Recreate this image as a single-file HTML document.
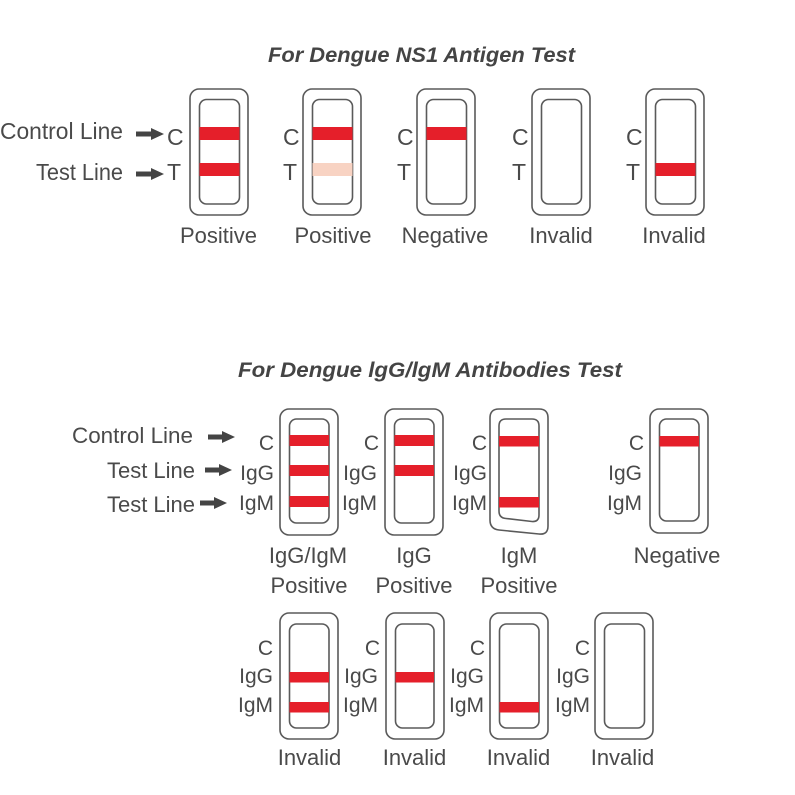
<!DOCTYPE html>
<html><head><meta charset="utf-8"><style>
html,body{margin:0;padding:0;background:#fff;}
svg{display:block;}
text{font-family:"Liberation Sans",sans-serif;fill:#4a4a4a;}
.t{font-weight:bold;font-style:italic;font-size:21px;fill:#444;}
.b{fill:none;stroke:#5a5a5a;stroke-width:1.6;}
.r{fill:#e51f2a;}
.f{fill:#f8d3c3;}
.a{fill:#444;}
</style></head><body>
<svg width="795" height="795" viewBox="0 0 795 795" xmlns="http://www.w3.org/2000/svg">
<!-- Titles -->
<text class="t" x="268" y="62" textLength="307" lengthAdjust="spacingAndGlyphs">For Dengue NS1 Antigen Test</text>
<text class="t" x="238" y="377" textLength="384" lengthAdjust="spacingAndGlyphs">For Dengue lgG/lgM Antibodies Test</text>

<!-- TOP SECTION -->
<text x="0" y="139" font-size="23" textLength="123" lengthAdjust="spacingAndGlyphs">Control Line</text>
<text x="36" y="180" font-size="23" textLength="87" lengthAdjust="spacingAndGlyphs">Test Line</text>
<path class="a" d="M136 131.5 H151 V128 L164 134 L151 140 V136.5 H136 Z"/>
<path class="a" d="M136 171.5 H151 V168 L164 174 L151 180 V176.5 H136 Z"/>

<g font-size="23">
<text x="167" y="145">C</text><text x="167" y="180">T</text>
<text x="283" y="145">C</text><text x="283" y="180">T</text>
<text x="397" y="145">C</text><text x="397" y="180">T</text>
<text x="512" y="145">C</text><text x="512" y="180">T</text>
<text x="626" y="145">C</text><text x="626" y="180">T</text>
</g>

<!-- cassette 1 -->
<rect class="b" x="190" y="89" width="58" height="126" rx="9"/>
<rect class="b" x="199.5" y="99.5" width="40" height="104.5" rx="7"/>
<rect class="r" x="199.5" y="127" width="40" height="13"/>
<rect class="r" x="199.5" y="163" width="40" height="13"/>
<!-- cassette 2 -->
<rect class="b" x="303" y="89" width="58" height="126" rx="9"/>
<rect class="b" x="312.5" y="99.5" width="40" height="104.5" rx="7"/>
<rect class="r" x="312.5" y="127" width="40" height="13"/>
<rect class="f" x="312.5" y="163" width="40" height="13"/>
<!-- cassette 3 -->
<rect class="b" x="417" y="89" width="58" height="126" rx="9"/>
<rect class="b" x="426.5" y="99.5" width="40" height="104.5" rx="7"/>
<rect class="r" x="426.5" y="127" width="40" height="13"/>
<!-- cassette 4 -->
<rect class="b" x="532" y="89" width="58" height="126" rx="9"/>
<rect class="b" x="541.5" y="99.5" width="40" height="104.5" rx="7"/>
<!-- cassette 5 -->
<rect class="b" x="646" y="89" width="58" height="126" rx="9"/>
<rect class="b" x="655.5" y="99.5" width="40" height="104.5" rx="7"/>
<rect class="r" x="655.5" y="163" width="40" height="13"/>

<g font-size="22" text-anchor="middle">
<text x="218.5" y="243">Positive</text>
<text x="333" y="243">Positive</text>
<text x="445" y="243">Negative</text>
<text x="561" y="243">Invalid</text>
<text x="674" y="243">Invalid</text>
</g>

<!-- BOTTOM SECTION -->
<text x="72" y="443" font-size="22" textLength="121" lengthAdjust="spacingAndGlyphs">Control Line</text>
<text x="107" y="478" font-size="22" textLength="88" lengthAdjust="spacingAndGlyphs">Test Line</text>
<text x="107" y="512" font-size="22" textLength="88" lengthAdjust="spacingAndGlyphs">Test Line</text>
<path class="a" d="M208 434.5 H222 V431 L235 437 L222 443 V439.5 H208 Z"/>
<path class="a" d="M205 467.5 H219 V464 L232 470 L219 476 V472.5 H205 Z"/>
<path class="a" d="M200 500.5 H214 V497 L227 503 L214 509 V505.5 H200 Z"/>

<g font-size="21" text-anchor="end">
<text x="274" y="450">C</text><text x="274" y="480">IgG</text><text x="274" y="510">IgM</text>
<text x="379" y="450">C</text><text x="377" y="480">IgG</text><text x="377" y="510">IgM</text>
<text x="487" y="450">C</text><text x="487" y="480">IgG</text><text x="487" y="510">IgM</text>
<text x="644" y="450">C</text><text x="642" y="480">IgG</text><text x="642" y="510">IgM</text>
</g>

<!-- row1 cassette 1 -->
<rect class="b" x="280" y="409" width="58" height="126" rx="9"/>
<rect class="b" x="289.5" y="419" width="39.5" height="104" rx="7"/>
<rect class="r" x="289.5" y="435" width="39.5" height="11"/>
<rect class="r" x="289.5" y="465" width="39.5" height="11"/>
<rect class="r" x="289.5" y="496" width="39.5" height="11"/>
<!-- row1 cassette 2 -->
<rect class="b" x="385" y="409" width="58" height="126" rx="9"/>
<rect class="b" x="394.5" y="419" width="39.5" height="104" rx="7"/>
<rect class="r" x="394.5" y="435" width="39.5" height="11"/>
<rect class="r" x="394.5" y="465" width="39.5" height="11"/>
<!-- row1 cassette 3 (slanted bottom) -->
<path class="b" d="M499 409 H539 Q548 409 548 418 V526 Q548 535 539 534 L499 530 Q490 529 490 520 V418 Q490 409 499 409 Z"/>
<path class="b" d="M506 419 H532 Q539 419 539 426 V515 Q539 522 532 521.5 L506 518.5 Q499 518 499 511 V426 Q499 419 506 419 Z"/>
<rect class="r" x="499" y="436" width="40" height="10.5"/>
<rect class="r" x="499" y="497" width="40" height="10.5"/>
<!-- row1 cassette 4 -->
<rect class="b" x="650" y="409" width="58" height="124" rx="9"/>
<rect class="b" x="659.5" y="419" width="39.5" height="102" rx="7"/>
<rect class="r" x="659.5" y="436" width="39.5" height="10.5"/>

<g font-size="22" text-anchor="middle">
<text x="308" y="563">IgG/IgM</text>
<text x="309" y="593">Positive</text>
<text x="414" y="563">IgG</text>
<text x="414" y="593">Positive</text>
<text x="519" y="563">IgM</text>
<text x="519" y="593">Positive</text>
<text x="677" y="563">Negative</text>
</g>

<!-- ROW 2 -->
<g font-size="21" text-anchor="end">
<text x="273" y="655">C</text><text x="273" y="683">IgG</text><text x="273" y="712">IgM</text>
<text x="380" y="655">C</text><text x="378" y="683">IgG</text><text x="378" y="712">IgM</text>
<text x="485" y="655">C</text><text x="484" y="683">IgG</text><text x="484" y="712">IgM</text>
<text x="590" y="655">C</text><text x="590" y="683">IgG</text><text x="590" y="712">IgM</text>
</g>

<rect class="b" x="280" y="613" width="58" height="126" rx="9"/>
<rect class="b" x="289.5" y="624" width="39.5" height="104" rx="7"/>
<rect class="r" x="289.5" y="672" width="39.5" height="10.5"/>
<rect class="r" x="289.5" y="702" width="39.5" height="10.5"/>

<rect class="b" x="386" y="613" width="58" height="126" rx="9"/>
<rect class="b" x="395.5" y="624" width="38.5" height="104" rx="7"/>
<rect class="r" x="395.5" y="672" width="38.5" height="10.5"/>

<rect class="b" x="490" y="613" width="58" height="126" rx="9"/>
<rect class="b" x="499.5" y="624" width="39.5" height="104" rx="7"/>
<rect class="r" x="499.5" y="702" width="39.5" height="10.5"/>

<rect class="b" x="595" y="613" width="58" height="126" rx="9"/>
<rect class="b" x="604.5" y="624" width="40" height="104" rx="7"/>

<g font-size="22" text-anchor="middle">
<text x="309.5" y="765">Invalid</text>
<text x="414.5" y="765">Invalid</text>
<text x="518.5" y="765">Invalid</text>
<text x="622.5" y="765">Invalid</text>
</g>
</svg>
</body></html>
